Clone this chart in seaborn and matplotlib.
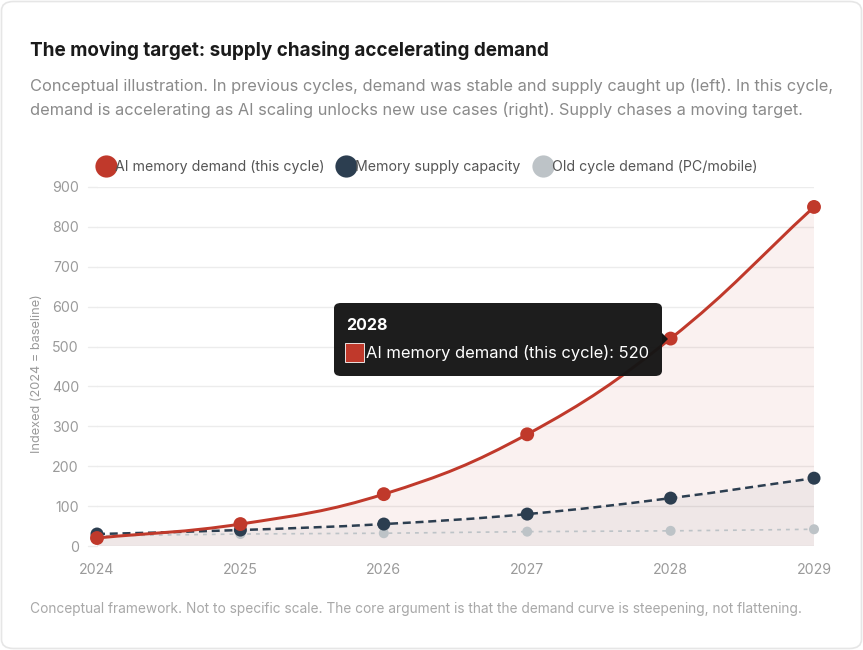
import numpy as np
import pandas as pd
import matplotlib
matplotlib.use("Agg")
import matplotlib.pyplot as plt
import seaborn as sns
from matplotlib.path import Path
from matplotlib.patches import PathPatch, FancyBboxPatch, Polygon, Rectangle
from matplotlib.lines import Line2D

# ---------------- data ----------------
years = [2024, 2025, 2026, 2027, 2028, 2029]
ai_demand = [20, 55, 130, 280, 520, 850]
supply = [30, 40, 55, 80, 120, 170]
old_demand = [25, 30, 32, 36, 38, 42]
series_names = ["AI memory demand (this cycle)", "Memory supply capacity", "Old cycle demand (PC/mobile)"]
y_ticks = [0, 100, 200, 300, 400, 500, 600, 700, 800, 900]
tooltip_index = 4

title = "The moving target: supply chasing accelerating demand"
subtitle = ("Conceptual illustration. In previous cycles, demand was stable and supply caught up (left). In this cycle,\n"
            "demand is accelerating as AI scaling unlocks new use cases (right). Supply chases a moving target.")
footnote = "Conceptual framework. Not to specific scale. The core argument is that the demand curve is steepening, not flattening."
y_label = "Indexed (2024 = baseline)"

RED = "#c0392b"
NAVY = "#2c3e50"
GREY = "#bdc3c7"

sns.set_theme(style="white")
plt.rcParams["font.family"] = ["Inter", "DejaVu Sans"]

W, H = 863, 650
fig = plt.figure(figsize=(W / 100, H / 100), dpi=100)
fig.patch.set_facecolor("white")

# card
card = FancyBboxPatch((1.5 / W, 1.5 / H), (W - 3) / W, (H - 3) / H,
                      boxstyle="round,pad=0,rounding_size=0.014", transform=fig.transFigure,
                      facecolor="white", edgecolor="#e6e6e6", linewidth=1.2, zorder=-5)
fig.patches.append(card)

L, R, B, T = 97, 814, 546, 187
ax = fig.add_axes([L / W, 1 - B / H, (R - L) / W, (B - T) / H])
ax.set_facecolor("none")
ax.set_zorder(1)

df = pd.DataFrame({"year": years * 3,
                   "value": ai_demand + supply + old_demand,
                   "series": [series_names[0]] * 6 + [series_names[1]] * 6 + [series_names[2]] * 6})

xmin, xmax = years[0], years[-1]
ymin, ymax = y_ticks[0], y_ticks[-1]
ax.set_xlim(xmin, xmax)
ax.set_ylim(ymin, ymax)
aw, ah = R - L, B - T


def smooth_path(xs, ys, tension=0.4, close_bottom=False):
    px = (np.array(xs, float) - xmin) / (xmax - xmin) * aw
    py = (np.array(ys, float) - ymin) / (ymax - ymin) * ah
    n = len(px)
    prev_cp, next_cp = [], []
    for i in range(n):
        a = max(i - 1, 0)
        c = min(i + 1, n - 1)
        d01 = np.hypot(px[i] - px[a], py[i] - py[a])
        d12 = np.hypot(px[c] - px[i], py[c] - py[i])
        tot = d01 + d12
        s01 = d01 / tot if tot else 0
        s12 = d12 / tot if tot else 0
        fa, fb = tension * s01, tension * s12
        dx, dy = px[c] - px[a], py[c] - py[a]
        prev_cp.append((np.clip(px[i] - fa * dx, 0, aw), np.clip(py[i] - fa * dy, 0, ah)))
        next_cp.append((np.clip(px[i] + fb * dx, 0, aw), np.clip(py[i] + fb * dy, 0, ah)))

    def to_data(p):
        return (xmin + p[0] / aw * (xmax - xmin), ymin + p[1] / ah * (ymax - ymin))

    verts = [to_data((px[0], py[0]))]
    codes = [Path.MOVETO]
    for i in range(n - 1):
        verts += [to_data(next_cp[i]), to_data(prev_cp[i + 1]), to_data((px[i + 1], py[i + 1]))]
        codes += [Path.CURVE4] * 3
    if close_bottom:
        verts += [(xs[-1], ymin), (xs[0], ymin), verts[0]]
        codes += [Path.LINETO, Path.LINETO, Path.CLOSEPOLY]
    return Path(verts, codes)


# fills
ax.add_patch(PathPatch(smooth_path(years, ai_demand, close_bottom=True), facecolor=RED, alpha=0.07,
                       edgecolor="none", zorder=1))
ax.add_patch(PathPatch(smooth_path(years, supply, close_bottom=True), facecolor=NAVY, alpha=0.05,
                       edgecolor="none", zorder=1))

# lines
ax.add_patch(PathPatch(smooth_path(years, old_demand), facecolor="none", edgecolor=GREY, lw=1.2,
                       linestyle=(0, (2.3, 3.0)), zorder=2, capstyle="butt"))
ax.add_patch(PathPatch(smooth_path(years, supply), facecolor="none", edgecolor=NAVY, lw=1.8,
                       linestyle=(0, (3.2, 1.9)), zorder=3))
ax.add_patch(PathPatch(smooth_path(years, ai_demand), facecolor="none", edgecolor=RED, lw=2.15,
                       zorder=4))

# markers through seaborn
palette = {series_names[0]: RED, series_names[1]: NAVY, series_names[2]: GREY}
sizes = {series_names[0]: 100, series_names[1]: 88, series_names[2]: 52}
for name, z in [(series_names[2], 5), (series_names[1], 6), (series_names[0], 7)]:
    sub = df[df.series == name]
    sns.scatterplot(data=sub, x="year", y="value", color=palette[name], s=sizes[name],
                    edgecolor="none", ax=ax, zorder=z, clip_on=False, legend=False)

# axes styling
for s in ax.spines.values():
    s.set_visible(False)
ax.set_yticks(y_ticks)
ax.set_xticks(years)
ax.set_xticklabels([str(y) for y in years])
ax.grid(axis="y", color="#ececec", linewidth=1.0, zorder=0)
ax.grid(axis="x", visible=False)
ax.set_axisbelow(True)
ax.tick_params(axis="y", length=0, pad=13, labelsize=10.2, labelcolor="#9a9a9a")
ax.tick_params(axis="x", length=0, pad=12, labelsize=10.2, labelcolor="#9a9a9a")
ax.set_xlabel("")
ax.set_ylabel(y_label, fontsize=9.2, color="#9a9a9a", labelpad=10)
ax.yaxis.set_label_coords(-(97 - 43) / aw, 0.48)
for yv in y_ticks:
    ax.plot([xmin - (9 / aw) * (xmax - xmin), xmin], [yv, yv], color="#ececec", lw=1.0,
            clip_on=False, zorder=0)

# legend
handles = [Line2D([0], [0], marker="o", linestyle="none", markersize=16, markerfacecolor=c,
                  markeredgecolor="none") for c in (RED, NAVY, GREY)]
fig.legend(handles, series_names, loc="center", bbox_to_anchor=(428 / W, 1 - 167 / H), ncol=3,
           frameon=False, handlelength=1.0, handletextpad=0.14, columnspacing=1.05,
           fontsize=10.2, labelcolor="#555555", borderaxespad=0)

# title texts
fig.text(30 / W, 1 - 50 / H, title, fontsize=13.6, fontweight="bold", color="#1a1a1a",
         va="center", ha="left")
fig.text(30 / W, 1 - 98 / H, subtitle, fontsize=11.8, color="#8a8a8a", va="center", ha="left",
         linespacing=1.58)
fig.text(30 / W, 1 - 609 / H, footnote, fontsize=9.9, color="#a8a8a8", va="center", ha="left")

# tooltip
tx0, ty0, tx1, ty1 = 334, 303, 662, 376
tip = FancyBboxPatch((tx0 / W, 1 - ty1 / H), (tx1 - tx0) / W, (ty1 - ty0) / H,
                     boxstyle="round,pad=0,rounding_size=0.008", transform=fig.transFigure,
                     facecolor="#151515", edgecolor="none", zorder=10, alpha=0.97)
fig.patches.append(tip)
caret = Polygon([(tx1 / W, 1 - 333 / H), ((tx1 + 6) / W, 1 - 339 / H), (tx1 / W, 1 - 345 / H)],
                closed=True, transform=fig.transFigure, facecolor="#151515", edgecolor="none", zorder=10)
fig.patches.append(caret)
fig.text(346 / W, 1 - 325 / H, str(years[tooltip_index]), fontsize=11.5, fontweight="bold",
         color="white", va="center", ha="left", zorder=11)
sq = Rectangle((345 / W, 1 - 362 / H), 19 / W, 19 / H, transform=fig.transFigure,
               facecolor=RED, edgecolor="white", linewidth=0.6, zorder=11)
fig.patches.append(sq)
fig.text(366 / W, 1 - 353 / H, f"{series_names[0]}: {ai_demand[tooltip_index]}", fontsize=11.9,
         color="white", va="center", ha="left", zorder=11)

fig.savefig("out.png", dpi=100, facecolor="white")
